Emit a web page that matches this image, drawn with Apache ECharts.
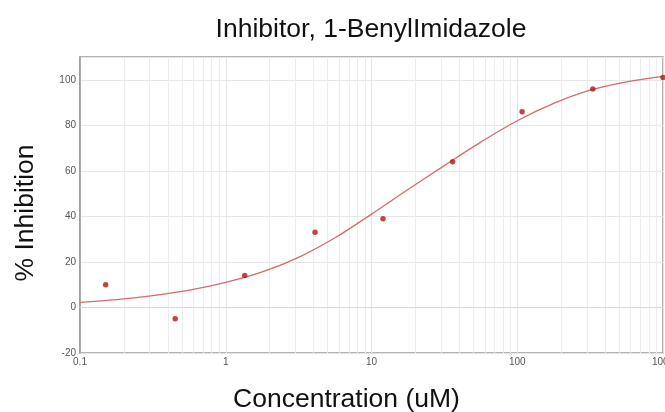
<!DOCTYPE html>
<html>
<head>
<meta charset="utf-8">
<script src="https://cdn.jsdelivr.net/npm/echarts@6/dist/echarts.min.js"></script>
<style>
html,body{margin:0;padding:0;background:#fff;}
#chart{width:665px;height:412px;}
</style>
</head>
<body>
<div id="chart"></div>
<script>
// Measured data points (concentration in uM, % inhibition)
const concentration = [0.15, 0.45, 1.35, 4.1, 12, 36, 108, 330, 1000];
const inhibition = [10, -5, 14, 33, 39, 64, 86, 96, 101];
// Fitted curve at quarter-decade steps
const fitX = [0.1, 0.178, 0.316, 0.562, 1, 1.78, 3.16, 5.62, 10, 17.8, 31.6, 56.2, 100, 178, 316, 562, 1000];
const fitY = [2.2, 3.4, 5.2, 7.6, 11, 15.6, 22, 30.6, 41, 51.8, 62.3, 72.6, 82, 89.6, 95.4, 99.1, 101.5];
// Minor log grid positions
const minorX = [0.2,0.3,0.4,0.5,0.6,0.7,0.8,0.9, 2,3,4,5,6,7,8,9, 20,30,40,50,60,70,80,90, 200,300,400,500,600,700,800,900];
const xTicks = ['0.1', '1', '10', '100', '1000'];
const yTicks = [-20, 0, 20, 40, 60, 80, 100];

const chart = echarts.init(document.getElementById('chart'), null, {renderer: 'canvas'});
const FONT = '"Liberation Sans", Arial, sans-serif';

chart.setOption({
  animation: false,
  backgroundColor: '#fff',
  title: {
    text: 'Inhibitor, 1-BenylImidazole',
    left: 366, top: 11, textAlign: 'center',
    textStyle: {fontFamily: FONT, fontSize: 26.5, fontWeight: 'normal', color: '#111'}
  },
  grid: {
    left: 80, right: 2, top: 57, bottom: 59,
    outerBoundsMode: 'none', containLabel: false,
    show: true, borderColor: '#9a9a9a', borderWidth: 1.5, backgroundColor: 'transparent'
  },
  xAxis: {
    type: 'log', logBase: 10, min: 0.1, max: 1000,
    name: 'Concentration (uM)', nameLocation: 'middle', nameGap: 33,
    nameTextStyle: {fontFamily: FONT, fontSize: 26.5, color: '#111', padding: [0, 50, 0, 0]},
    axisLine: {show: true, lineStyle: {color: '#d8d8d8', width: 1}},
    axisTick: {show: false},
    axisLabel: {
      fontFamily: FONT, fontSize: 10, color: '#555', margin: 4,
      formatter: function (v) {
        const s = String(+v.toPrecision(6));
        return xTicks.indexOf(s) >= 0 ? s : '';
      }
    },
    splitLine: {show: true, lineStyle: {color: '#e4e4e4', width: 1}}
  },
  yAxis: {
    type: 'value', min: -20, max: 110, interval: 20,
    name: '% Inhibition', nameLocation: 'middle', nameGap: 41,
    nameTextStyle: {fontFamily: FONT, fontSize: 26.5, color: '#111', padding: [0, 16, 0, 0]},
    axisLine: {show: true, lineStyle: {color: '#9a9a9a', width: 1.5}},
    axisTick: {show: false},
    axisLabel: {
      fontFamily: FONT, fontSize: 10, color: '#555', margin: 4,
      formatter: function (v) { return yTicks.indexOf(v) >= 0 ? String(v) : ''; }
    },
    splitLine: {show: true, lineStyle: {color: '#e6e6e6', width: 1}}
  },
  series: [
    {
      type: 'line', data: [], silent: true, z: 1,
      markLine: {
        silent: true, symbol: 'none', animation: false, z: 0,
        label: {show: false},
        lineStyle: {color: '#ececec', width: 1, type: 'solid'},
        data: minorX.map(v => ({xAxis: v}))
      }
    },
    {
      name: 'Fit', type: 'line', smooth: 0.35, showSymbol: false, z: 3,
      lineStyle: {color: '#d46b6b', width: 1.3},
      data: fitX.map((x, i) => [x, fitY[i]])
    },
    {
      name: 'Data', type: 'scatter', symbolSize: 5.5, z: 4,
      itemStyle: {color: '#b01616'},
      data: concentration.map((x, i) => [x, inhibition[i]])
    }
  ]
});
</script>
</body>
</html>
